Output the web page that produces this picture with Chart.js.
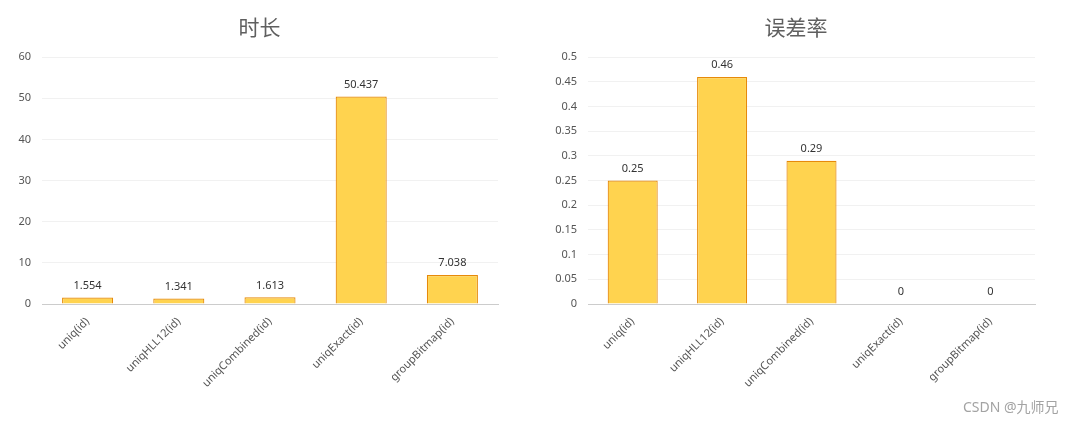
<!DOCTYPE html>
<html>
<head>
<meta charset="utf-8">
<script src="https://cdn.jsdelivr.net/npm/chart.js@4.4.1/dist/chart.umd.min.js"></script>
<style>
  html, body { margin: 0; padding: 0; background: #fff; }
  body { width: 1077px; height: 423px; position: relative; overflow: hidden; }
  .box { position: absolute; top: 0; height: 423px; }
  #box-duration { left: 0; width: 519px; }
  #box-error { left: 540px; width: 512px; }
  .mark {
    position: absolute; left: 963px; top: 396px;
    font: 14px "Noto Sans", "Noto Sans CJK SC", sans-serif;
    color: #a3a3a3; white-space: nowrap;
  }
</style>
</head>
<body>
<div class="box" id="box-duration"><canvas id="chart-duration"></canvas></div>
<div class="box" id="box-error"><canvas id="chart-error"></canvas></div>
<div class="mark">CSDN @九师兄</div>

<script>
/* ------------------------------
 * data
 * ------------------------------ */
const categories = ['uniq(id)', 'uniqHLL12(id)', 'uniqCombined(id)', 'uniqExact(id)', 'groupBitmap(id)'];
const durationValues = [1.554, 1.341, 1.613, 50.437, 7.038];
const errorRateValues = [0.25, 0.46, 0.29, 0, 0];
const durationTicks = [0, 10, 20, 30, 40, 50, 60];
const errorRateTicks = [0, 0.05, 0.1, 0.15, 0.2, 0.25, 0.3, 0.35, 0.4, 0.45, 0.5];

const COLORS = {
  fill: '#FFD34F',
  border: '#E68A0A',
  grid: '#f1f1f1',
  axis: '#cccccc',
  tick: '#555555',
  title: '#5f5f5f',
  value: '#333333'
};

const FONT = '"Noto Sans", "Noto Sans CJK SC", sans-serif';

// value labels above each bar
const valueLabels = {
  id: 'valueLabels',
  afterDatasetsDraw(chart) {
    const ctx = chart.ctx;
    const ds = chart.data.datasets[0];
    ctx.save();
    ctx.font = '11px ' + FONT;
    ctx.fillStyle = COLORS.value;
    ctx.textAlign = 'center';
    ctx.textBaseline = 'middle';
    chart.getDatasetMeta(0).data.forEach((bar, i) => {
      ctx.fillText(String(ds.data[i]), bar.x, bar.y - 12);
    });
    ctx.restore();
  }
};

// rightGap: empty space right of the plot (an invisible axis), so the title stays centred on the canvas
function makeChart(canvasId, title, values, ticks, axisWidth, rightGap) {
  const step = ticks[1] - ticks[0];
  return new Chart(document.getElementById(canvasId), {
    type: 'bar',
    plugins: [valueLabels],
    data: {
      labels: categories,
      datasets: [{
        data: values,
        backgroundColor: COLORS.fill,
        borderColor: COLORS.border,
        borderWidth: 1.2,
        borderSkipped: 'start',
        barPercentage: 0.56,
        categoryPercentage: 1
      }]
    },
    options: {
      responsive: true,
      maintainAspectRatio: false,
      animation: false,
      layout: { padding: 0 },
      scales: {
        x: {
          grid: { display: false, drawTicks: false },
          border: { display: true, color: COLORS.axis, width: 1 },
          ticks: {
            color: COLORS.tick,
            font: { family: FONT, size: 11 },
            maxRotation: 45,
            minRotation: 45,
            autoSkip: false,
            padding: 11
          },
          afterFit(scale) { scale.height = 119; }
        },
        y: {
          min: ticks[0],
          max: ticks[ticks.length - 1],
          grid: { color: COLORS.grid, drawTicks: false },
          border: { display: false },
          ticks: {
            stepSize: step,
            color: COLORS.tick,
            font: { family: FONT, size: 11 },
            padding: 11,
            callback: (v) => String(Math.round(v * 100) / 100)
          },
          afterFit(scale) { scale.width = axisWidth; }
        },
        gap: {
          type: 'linear',
          position: 'right',
          grid: { display: false, drawTicks: false },
          border: { display: false },
          ticks: { display: false },
          afterFit(scale) { scale.width = rightGap; }
        }
      },
      plugins: {
        legend: { display: false },
        tooltip: { enabled: false },
        title: {
          display: true,
          text: title,
          color: COLORS.title,
          font: { family: '"Noto Sans CJK SC", sans-serif', size: 21, weight: 'normal', lineHeight: 1.2 },
          padding: { top: 14, bottom: 18 }
        }
      }
    }
  });
}

makeChart('chart-duration', '时长', durationValues, durationTicks, 42, 21);
makeChart('chart-error', '误差率', errorRateValues, errorRateTicks, 48, 17);
</script>
</body>
</html>
